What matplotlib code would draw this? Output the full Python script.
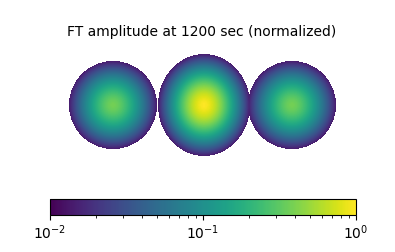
import numpy as np
import matplotlib
matplotlib.use("Agg")
import matplotlib.pyplot as plt
from matplotlib.colors import LogNorm

# disc parameters (in image pixel units)
disc_cx = [45, 136, 224]
disc_cy = [52, 52, 52]
disc_rx = [44, 46, 44]
disc_ry = [44, 51, 44]
disc_peak = [0.38, 1.0, 0.38]
disc_edge = [0.014, 0.014, 0.014]
falloff = 1.6

img_w, img_h = 270, 105
title = "FT amplitude at 1200 sec (normalized)"

yy, xx = np.mgrid[0:img_h, 0:img_w] + 0.5
amp = np.full((img_h, img_w), np.nan)
for cx, cy, rx, ry, pk, ed in zip(disc_cx, disc_cy, disc_rx, disc_ry, disc_peak, disc_edge):
    r = np.sqrt(((xx - cx) / rx) ** 2 + ((yy - cy) / ry) ** 2)
    inside = r <= 1
    val = 10 ** (np.log10(pk) + (np.log10(ed) - np.log10(pk)) * r ** falloff)
    upd = inside & (np.isnan(amp) | (val > amp))
    amp[upd] = val[upd]

fig = plt.figure(figsize=(3.95, 2.53), dpi=100)
ax = fig.add_axes([68 / 395, 1 - 159 / 253, img_w / 395, img_h / 253])
im = ax.imshow(np.ma.masked_invalid(amp), cmap="viridis",
               norm=LogNorm(vmin=1e-2, vmax=1), interpolation="nearest",
               aspect="auto")
ax.axis("off")
fig.text(202 / 395, 1 - 32 / 253, title, ha="center", va="center", fontsize=10)

cax = fig.add_axes([50 / 395, 1 - 216 / 253, 306 / 395, 16 / 253])
cb = fig.colorbar(im, cax=cax, orientation="horizontal")
cb.ax.tick_params(labelsize=10, pad=2)

fig.savefig("out.png", dpi=100)
